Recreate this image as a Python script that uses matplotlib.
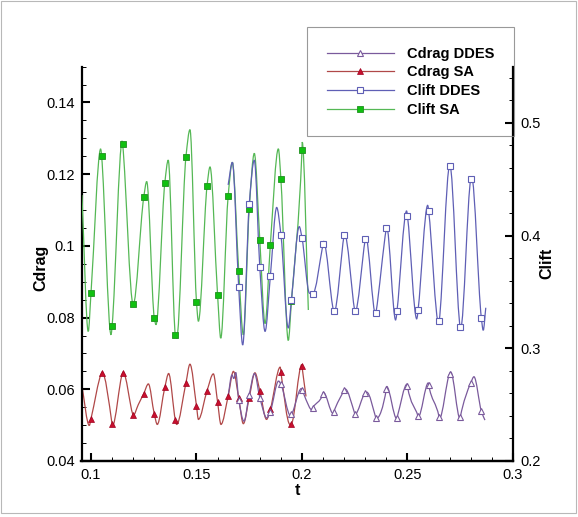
import numpy as np
import matplotlib
matplotlib.use("Agg")
import matplotlib.pyplot as plt
from matplotlib.ticker import MultipleLocator, FuncFormatter
from matplotlib.lines import Line2D
from matplotlib.patches import Rectangle, PathPatch
from matplotlib.path import Path

plt.rcParams['font.family'] = ['Liberation Sans', 'DejaVu Sans']

# ---- Clift SA (right axis), extrema
clift_sa_t = [0.0957, 0.0987, 0.1046, 0.1095, 0.1148, 0.1200, 0.1264, 0.1308,
              0.1366, 0.1406, 0.1469, 0.1509, 0.1564, 0.1615, 0.1670, 0.1722,
              0.1774, 0.1825, 0.1888, 0.1935, 0.2001, 0.2030]
clift_sa = [0.436, 0.315, 0.477, 0.312, 0.484, 0.339, 0.448, 0.321,
            0.467, 0.309, 0.494, 0.324, 0.461, 0.309, 0.465, 0.312,
            0.473, 0.322, 0.477, 0.307, 0.483, 0.334]
clift_sa_mt = [0.100, 0.105, 0.110, 0.115, 0.120, 0.125, 0.130, 0.135, 0.140,
               0.145, 0.150, 0.155, 0.160, 0.165, 0.170, 0.175, 0.180, 0.185,
               0.190, 0.195, 0.200]
clift_sa_m = [0.349, 0.471, 0.320, 0.481, 0.339, 0.434, 0.327, 0.447, 0.312,
              0.470, 0.341, 0.444, 0.347, 0.435, 0.369, 0.424, 0.396, 0.392,
              0.450, 0.342, 0.476]

# ---- Clift DDES (right axis)
clift_des_t = [0.1650, 0.1670, 0.1719, 0.1774, 0.1825, 0.1880, 0.1935, 0.1987,
               0.2035, 0.2102, 0.2152, 0.2201, 0.2251, 0.2302, 0.2349, 0.2401,
               0.2444, 0.2496, 0.2544, 0.2596, 0.2648, 0.2701, 0.2752, 0.2804,
               0.2859, 0.2871]
clift_des = [0.445, 0.465, 0.303, 0.467, 0.315, 0.425, 0.318, 0.408,
             0.349, 0.395, 0.332, 0.402, 0.332, 0.399, 0.330, 0.408,
             0.325, 0.422, 0.326, 0.427, 0.322, 0.462, 0.318, 0.452,
             0.316, 0.336]
clift_des_mt = [0.170, 0.175, 0.180, 0.185, 0.190, 0.195, 0.200, 0.205, 0.210,
                0.215, 0.220, 0.225, 0.230, 0.235, 0.240, 0.245, 0.250, 0.255,
                0.260, 0.265, 0.270, 0.275, 0.280, 0.285]
clift_des_m = [0.354, 0.428, 0.372, 0.364, 0.401, 0.343, 0.398, 0.348, 0.393,
               0.333, 0.401, 0.333, 0.397, 0.331, 0.407, 0.333, 0.417, 0.334,
               0.422, 0.324, 0.462, 0.319, 0.450, 0.327]

# ---- Cdrag SA (left axis)
cdrag_sa_t = [0.0956, 0.0992, 0.1052, 0.1101, 0.1152, 0.1198, 0.1224, 0.1272,
              0.1314, 0.1368, 0.1406, 0.1469, 0.1509, 0.1580, 0.1616, 0.1675,
              0.1722, 0.1777, 0.1832, 0.1897, 0.1943, 0.1999, 0.2019]
cdrag_sa = [0.0613, 0.0499, 0.0648, 0.0497, 0.0648, 0.0530, 0.0557, 0.0615,
            0.0502, 0.0644, 0.0502, 0.0670, 0.0516, 0.0643, 0.0502, 0.0650,
            0.0504, 0.0646, 0.0516, 0.0662, 0.0502, 0.0669, 0.0580]
cdrag_sa_mt = clift_sa_mt
cdrag_sa_m = [0.0518, 0.0646, 0.0502, 0.0646, 0.0527, 0.0588, 0.0531, 0.0606,
              0.0514, 0.0618, 0.0553, 0.0596, 0.0564, 0.0581, 0.0576, 0.0577,
              0.0596, 0.0545, 0.0648, 0.0504, 0.0664]

# ---- Cdrag DDES (left axis)
cdrag_des_t = [0.1650, 0.1668, 0.1677, 0.1686, 0.1725, 0.1775, 0.1833, 0.1889,
               0.1945, 0.1997, 0.2019, 0.2046, 0.2101, 0.2148, 0.2204, 0.2251,
               0.2307, 0.2351, 0.2401, 0.2449, 0.2499, 0.2551, 0.2599, 0.2651,
               0.2705, 0.2749, 0.2815, 0.2867]
cdrag_des = [0.0582, 0.0640, 0.0630, 0.0647, 0.0511, 0.0644, 0.0520, 0.0623,
             0.0527, 0.0602, 0.0571, 0.0543, 0.0592, 0.0532, 0.0601, 0.0530,
             0.0592, 0.0518, 0.0608, 0.0518, 0.0615, 0.0523, 0.0618, 0.0518,
             0.0648, 0.0518, 0.0635, 0.0514]
cdrag_des_mt = clift_des_mt
cdrag_des_m = [0.0571, 0.0585, 0.0577, 0.0538, 0.0614, 0.0530, 0.0599, 0.0548,
               0.0588, 0.0536, 0.0597, 0.0532, 0.0590, 0.0520, 0.0601, 0.0520,
               0.0608, 0.0525, 0.0613, 0.0522, 0.0644, 0.0522, 0.0618, 0.0539]


def merged(t_line, v_line, t_mark, v_mark):
    t = np.concatenate([t_line, t_mark])
    v = np.concatenate([v_line, v_mark])
    order = np.argsort(t, kind='stable')
    return t[order], v[order]


def smooth_line(a, t, v, color, lw=0.9, z=2):
    # draw the read points joined by monotone bezier segments (spline look)
    t = np.asarray(t, float)
    v = np.asarray(v, float)
    h = np.diff(t)
    d = np.diff(v) / h
    m = np.zeros(len(t))
    m[0], m[-1] = d[0], d[-1]
    for i in range(1, len(t) - 1):
        if d[i - 1] * d[i] > 0:
            w1 = 2 * h[i] + h[i - 1]
            w2 = h[i] + 2 * h[i - 1]
            m[i] = (w1 + w2) / (w1 / d[i - 1] + w2 / d[i])
    verts = [(t[0], v[0])]
    codes = [Path.MOVETO]
    for i in range(len(t) - 1):
        verts += [(t[i] + h[i] / 3, v[i] + m[i] * h[i] / 3),
                  (t[i + 1] - h[i] / 3, v[i + 1] - m[i + 1] * h[i] / 3),
                  (t[i + 1], v[i + 1])]
        codes += [Path.CURVE4] * 3
    a.add_patch(PathPatch(Path(verts, codes), fill=False, edgecolor=color,
                          lw=lw, zorder=z))


fig = plt.figure(figsize=(5.78, 5.17), dpi=100)
ax = fig.add_axes([81.5/578, 1 - 461/517, (513 - 81.5)/578, (461 - 66.6)/517])
ax2 = ax.twinx()

c_cd_des = '#7a5a9c'
c_cd_sa = '#b04848'
c_cl_des = '#5f5fb5'
c_cl_sa = '#55b855'

# Clift (right axis)
t, v = merged(clift_sa_t, clift_sa, clift_sa_mt, clift_sa_m)
smooth_line(ax2, t, v, c_cl_sa)
ax2.plot(clift_sa_mt, clift_sa_m, ls='none', marker='s', ms=4.5,
         mfc='#10c010', mec='#209020', mew=0.6, zorder=3)
t, v = merged(clift_des_t, clift_des, clift_des_mt, clift_des_m)
smooth_line(ax2, t, v, c_cl_des)
ax2.plot(clift_des_mt, clift_des_m, ls='none', marker='s', ms=4.5,
         mfc='white', mec=c_cl_des, mew=0.8, zorder=3)

# Cdrag (left axis)
t, v = merged(cdrag_sa_t, cdrag_sa, cdrag_sa_mt, cdrag_sa_m)
smooth_line(ax, t, v, c_cd_sa)
ax.plot(cdrag_sa_mt, cdrag_sa_m, ls='none', marker='^', ms=5,
        mfc='#c8102e', mec='#a00020', mew=0.5, zorder=3)
t, v = merged(cdrag_des_t, cdrag_des, cdrag_des_mt, cdrag_des_m)
smooth_line(ax, t, v, c_cd_des)
ax.plot(cdrag_des_mt, cdrag_des_m, ls='none', marker='^', ms=5,
        mfc='white', mec=c_cd_des, mew=0.8, zorder=3)

ax.set_xlim(0.0955, 0.3)
ax.set_ylim(0.04, 0.15)
ax2.set_ylim(0.2, 0.55)

fmt = FuncFormatter(lambda x, p: '%g' % round(x, 4))
ax.xaxis.set_major_locator(MultipleLocator(0.05))
ax.xaxis.set_minor_locator(MultipleLocator(0.01))
ax.yaxis.set_major_locator(MultipleLocator(0.02))
ax.yaxis.set_minor_locator(MultipleLocator(0.005))
ax2.yaxis.set_major_locator(MultipleLocator(0.1))
ax2.yaxis.set_minor_locator(MultipleLocator(0.02))
ax.xaxis.set_major_formatter(fmt)
ax.yaxis.set_major_formatter(fmt)
ax2.yaxis.set_major_formatter(fmt)

for a in (ax, ax2):
    a.spines['top'].set_visible(False)
    for s in a.spines.values():
        s.set_linewidth(1.6)
    a.tick_params(which='major', direction='in', length=6, width=1.5,
                  labelsize=10.5, pad=5)
    a.tick_params(which='minor', direction='in', length=3.2, width=0.7)
ax.spines['right'].set_visible(False)
ax2.spines['left'].set_visible(False)
ax.tick_params(which='both', top=False, right=False)
ax2.tick_params(which='both', left=False, top=False)

ax.set_xlabel('t', fontsize=11.5, fontweight='bold', labelpad=1)
ax.set_ylabel('Cdrag', fontsize=11.5, fontweight='bold', va='center')
ax.yaxis.set_label_coords(-0.094, 0.49)
ax2.set_ylabel('Clift', fontsize=11.5, fontweight='bold', rotation=90,
               va='center')
ax2.yaxis.set_label_coords(1.0795, 0.5)

handles = [
    Line2D([], [], color=c_cd_des, lw=0.9, marker='^', ms=5, mfc='white',
           mec=c_cd_des, mew=0.8),
    Line2D([], [], color=c_cd_sa, lw=0.9, marker='^', ms=5, mfc='#c8102e',
           mec='#a00020', mew=0.5),
    Line2D([], [], color=c_cl_des, lw=0.9, marker='s', ms=4.5, mfc='white',
           mec=c_cl_des, mew=0.8),
    Line2D([], [], color=c_cl_sa, lw=0.9, marker='s', ms=4.5, mfc='#10c010',
           mec='#209020', mew=0.6),
]
labels = ['Cdrag DDES', 'Cdrag SA', 'Clift DDES', 'Clift SA']
leg = fig.legend(handles, labels, loc='upper left',
                 bbox_to_anchor=(307/578, 1 - 27/517),
                 prop={'weight': 'bold', 'size': 10.5}, frameon=True,
                 fancybox=False, handlelength=4.6, handletextpad=0.9,
                 labelspacing=0.32, borderpad=1.35, borderaxespad=0)
leg.get_frame().set_edgecolor('#808080')
leg.get_frame().set_linewidth(0.8)
leg.get_frame().set_facecolor('none')

fig.patches.append(Rectangle((0.001, 4/517), 575/578, 1 - 4/517 - 0.002,
                             transform=fig.transFigure, fill=False,
                             edgecolor='#b8b8b8', lw=0.8))

fig.savefig('out.png', dpi=100)
